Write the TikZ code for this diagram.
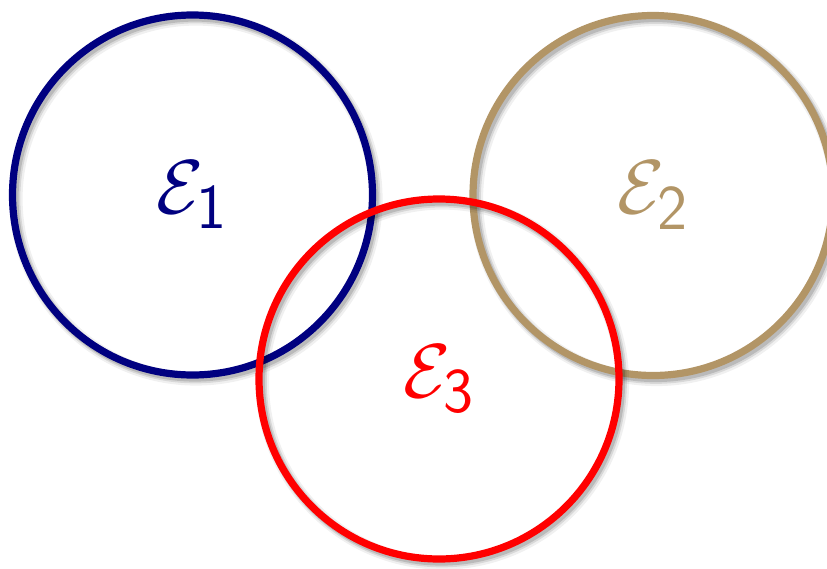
\documentclass[tikz,border=0pt]{standalone}
\usepackage{amsmath,amssymb}
\usepackage{xcolor}
\usepackage{tikz}
\usetikzlibrary{positioning}
\definecolor{SetNavy}{RGB}{0,0,128}
\definecolor{SetTan}{RGB}{178,149,102}
\definecolor{SetRed}{RGB}{255,0,0}
\newcommand{\setlabel}[1]{\scalebox{1.75}{$\mathcal{E}_{\mathsf{#1}}$}}

\begin{document}
\begin{tikzpicture}[
  ring/.style={circle, draw=#1, text=#1, line width=4.1pt, minimum size=7.2cm,
               inner sep=0pt, font=\Huge,
               preaction={draw=black, draw opacity=0.06, line width=7.5pt,
                          transform canvas={shift={(0.07,-0.08)}}},
               preaction={draw=black, draw opacity=0.10, line width=5.5pt,
                          transform canvas={shift={(0.06,-0.07)}}},
               preaction={draw=black, draw opacity=0.14, line width=4.1pt,
                          transform canvas={shift={(0.05,-0.06)}}}},
]
\useasboundingbox (0,0) rectangle (16.54,11.36);
\node[ring=SetNavy] (e1) at (3.85,7.46) {\setlabel{1}};
\node[ring=SetTan] (e2) at (13.06,7.45) {\setlabel{2}};
\node[ring=SetRed] (e3) at (8.78,3.78) {\setlabel{3}};
\end{tikzpicture}
\end{document}
